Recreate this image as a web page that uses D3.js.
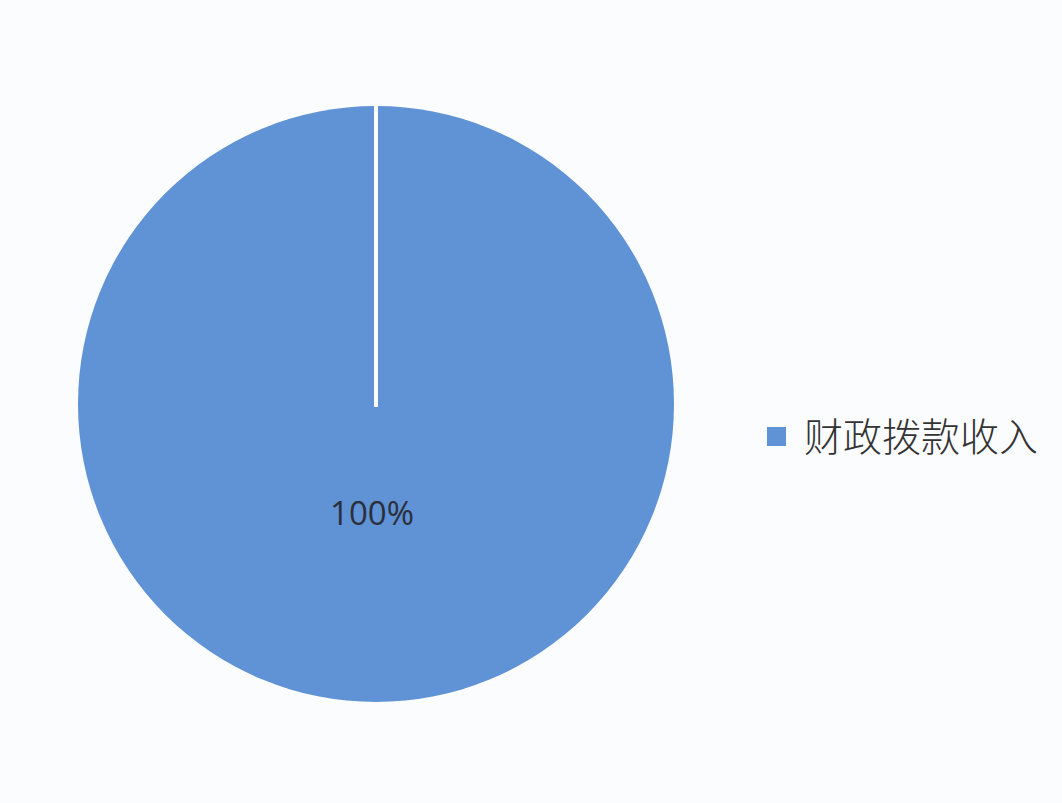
<!DOCTYPE html>
<html>
<head>
<meta charset="utf-8">
<script src="https://cdn.jsdelivr.net/npm/d3@7"></script>
<style>
  body { margin: 0; background: #fbfcfe; }
  svg { display: block; }
</style>
</head>
<body>
<div id="vis"></div>
<script>
// chart data
var categories = ["财政拨款收入"];
var shares = [100];
var colors = ["#5f93d5"];

var width = 1062;
var height = 803;
var cx = 376, cy = 404, radius = 298;

var svg = d3.select("#vis").append("svg")
  .attr("width", width)
  .attr("height", height);

svg.append("rect")
  .attr("width", width)
  .attr("height", height)
  .attr("fill", "#fbfcfe");

var g = svg.append("g")
  .attr("transform", "translate(" + cx + "," + cy + ")");

var pie = d3.pie().sort(null).value(function (d) { return d; });
var arcs = pie(shares);
var arc = d3.arc().innerRadius(0).outerRadius(radius);

g.selectAll(".slice")
  .data(arcs)
  .enter().append("path")
  .attr("class", "slice")
  .attr("d", arc)
  .attr("fill", function (d, i) { return colors[i]; });

// slice border at the start angle (a single slice still shows its edge)
g.selectAll(".edge")
  .data(arcs)
  .enter().append("line")
  .attr("class", "edge")
  .attr("x1", 0).attr("y1", 3)
  .attr("x2", function (d) { return d3.pointRadial(d.startAngle, radius)[0]; })
  .attr("y2", function (d) { return d3.pointRadial(d.startAngle, radius)[1]; })
  .attr("stroke", "#ffffff")
  .attr("stroke-width", 4);

// data label
g.selectAll(".label")
  .data(arcs)
  .enter().append("text")
  .attr("class", "label")
  .attr("x", -4)
  .attr("y", 121)
  .attr("text-anchor", "middle")
  .style("font-family", "'Open Sans', 'Liberation Sans', sans-serif")
  .style("font-size", "33px")
  .attr("fill", "#2b2f3a")
  .text(function (d) { return d.data + "%"; });

// legend
var legend = svg.append("g")
  .attr("transform", "translate(767,427)");

legend.selectAll("rect")
  .data(categories)
  .enter().append("rect")
  .attr("x", 0).attr("y", 0)
  .attr("width", 19).attr("height", 19)
  .attr("fill", function (d, i) { return colors[i]; });

legend.selectAll("text")
  .data(categories)
  .enter().append("text")
  .attr("x", 37)
  .attr("y", 24)
  .style("font-family", "'Noto Sans CJK SC', sans-serif")
  .style("font-weight", 300)
  .style("font-size", "39px")
  .attr("fill", "#333333")
  .text(function (d) { return d; });
</script>
</body>
</html>
